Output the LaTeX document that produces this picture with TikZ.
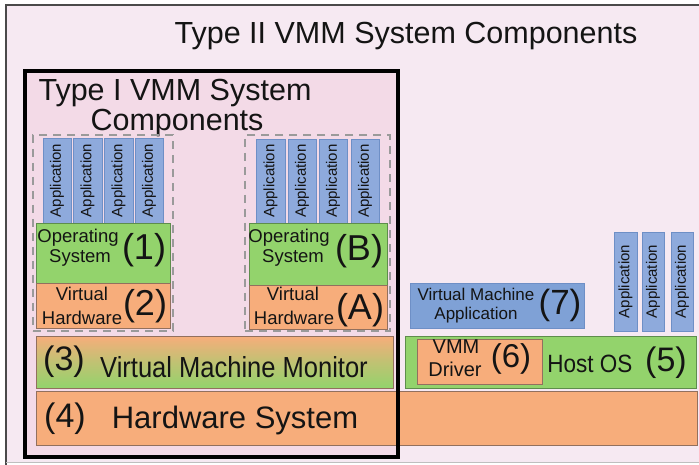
\documentclass[tikz,border=0pt]{standalone}
\usepackage{fontspec}
\setmainfont{Liberation Sans}
\usetikzlibrary{fit}
\definecolor{bgout}{HTML}{F6E9F2}
\definecolor{bgin}{HTML}{F3DAE7}
\definecolor{appblue}{HTML}{8EAADC}
\definecolor{appedge}{HTML}{6E8FC6}
\definecolor{vmablue}{HTML}{7FA1D6}
\definecolor{osgreen}{HTML}{93D36C}
\definecolor{greenedge}{HTML}{5E8D4C}
\definecolor{hworange}{HTML}{F7AD7B}
\definecolor{orangeedge}{HTML}{92705E}
\definecolor{dashgray}{HTML}{9A9A9A}
\definecolor{frame}{HTML}{4A4A4A}
\tikzset{
  layer/.style={inner sep=0pt, outer sep=0pt, line width=0.9pt},
  appbox/.style={layer, draw=appedge, fill=appblue},
  vmabox/.style={layer, draw=appedge, fill=vmablue},
  osbox/.style={layer, draw=greenedge, fill=osgreen},
  hwbox/.style={layer, draw=orangeedge, fill=hworange},
  grpbox/.style={inner sep=0pt, outer sep=0pt, draw=dashgray, line width=1.3pt, dash pattern=on 8pt off 6pt},
  txt/.style={inner sep=0pt, outer sep=0pt, text=black!92, anchor=base},
  apptxt/.style={inner sep=0pt, text=black!92, rotate=90, font=\fontsize{15}{15}\selectfont},
  fsz/.style={font=\fontsize{#1}{#1}\selectfont},
}
\newcommand{\appcol}[5]{%
  \node[appbox, fit={(#2,#3) (#4,#5)}] (#1) {};
  \node[apptxt] (#1t) at (#1.center) {Application};}
\begin{document}
\begin{tikzpicture}[x=1pt,y=-1pt]
\useasboundingbox (0,0) rectangle (699,465);
% outer background
\fill[bgout] (6,5) rectangle (699,463);
\coordinate (otl) at (6,5);
\coordinate (otr) at (699,5);
\coordinate (obl) at (6,465);
\coordinate (obr) at (699,462);
\coordinate (obl2) at (6,462);
\draw[frame, line width=2.6pt] (obl) -- (otl) -- (otr);
\draw[black!25, line width=0.8pt] (obl2) -- (obr);
\node[txt, fsz=30.5] (title) at (406,44) {Type II VMM System Components};
% Type I region
\node[inner sep=0pt, outer sep=0pt, fill=bgin, fit={(25,71) (398,457)}] (t1) {};
\node[txt, fsz=30.5] (t1a) at (175,101) {Type I VMM System};
\node[txt, fsz=30.5] (t1b) at (177,131) {Components};
% guest group 1
\node[grpbox, fit={(33,135) (173,331)}] (g1) {};
\appcol{a11}{43}{138}{71}{223}
\appcol{a12}{73}{138}{102}{223}
\appcol{a13}{104}{138}{133}{223}
\appcol{a14}{135}{138}{163}{223}
\node[osbox, fit={(36,223) (170,283)}] (os1) {};
\node[txt, fsz=18.5] (os1a) at (78,243) {Operating};
\node[txt, fsz=18.5] (os1b) at (80,262) {System};
\node[txt, fsz=36] (os1n) at (144,260) {(1)};
\node[hwbox, fit={(36,283) (170,328)}] (vh1) {};
\node[txt, fsz=18.5] (vh1a) at (82,300) {Virtual};
\node[txt, fsz=18.5] (vh1b) at (82,324) {Hardware};
\node[txt, fsz=36] (vh1n) at (145,316) {(2)};
% guest group 2
\node[grpbox, fit={(245,135) (390,331)}] (g2) {};
\appcol{a21}{256}{139}{285}{223}
\appcol{a22}{288}{139}{316}{223}
\appcol{a23}{319}{139}{347}{223}
\appcol{a24}{351}{139}{379}{223}
\node[osbox, fit={(249,223) (387,285)}] (os2) {};
\node[txt, fsz=18.5] (os2a) at (289,243) {Operating};
\node[txt, fsz=18.5] (os2b) at (293,262) {System};
\node[txt, fsz=36] (os2n) at (359,261) {(B)};
\node[hwbox, fit={(249,285) (387,329)}] (vh2) {};
\node[txt, fsz=18.5] (vh2a) at (293,300) {Virtual};
\node[txt, fsz=18.5] (vh2b) at (294,324) {Hardware};
\node[txt, fsz=36] (vh2n) at (360,319) {(A)};
% VMM
\node[layer, draw=orangeedge, top color=hworange, bottom color=osgreen, middle color=osgreen!55!hworange, fit={(36,336) (393,388)}] (vmm) {};
\node[txt, fsz=34] (vmmn) at (64,370) {(3)};
\node[txt, fsz=29] (vmmt) at (234,377) {\scalebox{0.88}[1]{Virtual Machine Monitor}};
% Hardware
\node[hwbox, fit={(36,391) (697,445)}] (hw) {};
\node[txt, fsz=34] (hwn) at (65,427) {(4)};
\node[txt, fsz=31] (hwt) at (235,428) {Hardware System};
% Type I border
\draw[black, line width=4pt] (t1.north west) rectangle (t1.south east);
% Type II side
\node[osbox, fit={(405,336) (696,388)}] (host) {};
\node[hwbox, fit={(417,339) (542,384)}] (drv) {};
\node[txt, fsz=20] (drva) at (456,353) {VMM};
\node[txt, fsz=20] (drvb) at (455,376) {Driver};
\node[txt, fsz=33] (drvn) at (511,367) {(6)};
\node[txt, fsz=25] (hostt) at (590,372) {\scalebox{0.9}[1]{Host OS}};
\node[txt, fsz=34] (hostn) at (666,371) {(5)};
\node[vmabox, fit={(410,283) (584,328)}] (vma) {};
\node[txt, fsz=17] (vmaa) at (476,301) {Virtual Machine};
\node[txt, fsz=17] (vmab) at (476,319) {Application};
\node[txt, fsz=35] (vman) at (560,314) {(7)};
\appcol{r1}{614}{232}{637}{331}
\appcol{r2}{642}{232}{664}{331}
\appcol{r3}{671}{232}{693}{331}
\end{tikzpicture}
\end{document}
